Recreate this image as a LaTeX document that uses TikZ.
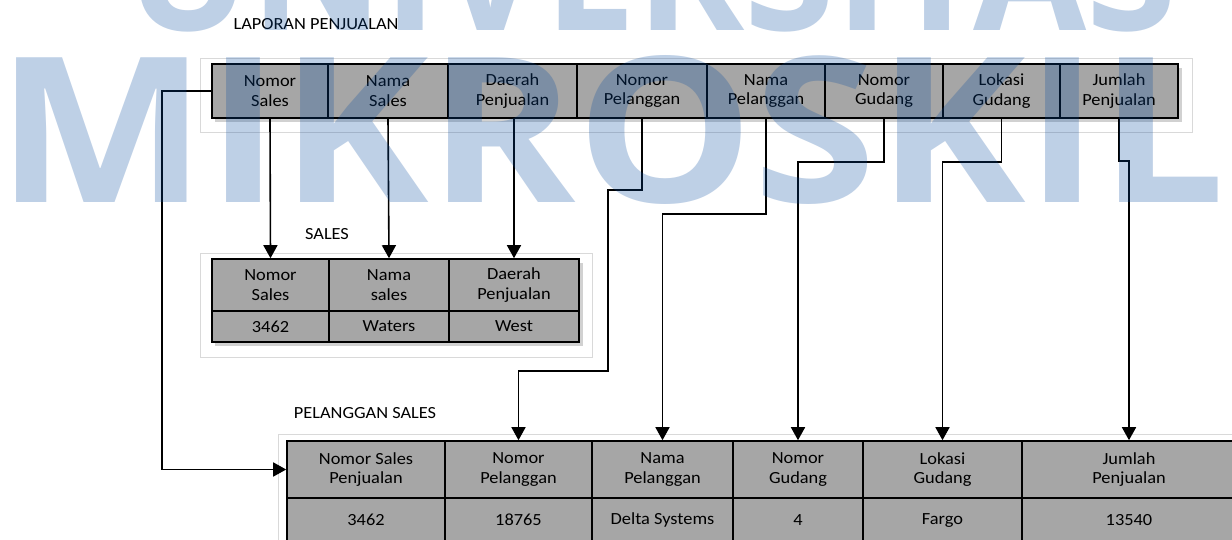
\documentclass[tikz,border=0pt]{standalone}
\usepackage{fontspec}
\setmainfont{Carlito}[FakeStretch=1.08]
\newfontfamily\wmfont{Open Sans}
\usetikzlibrary{arrows.meta}
\definecolor{cellgray}{HTML}{A6A6A6}
\definecolor{wmblue}{RGB}{5,74,159}
\definecolor{framegray}{HTML}{D9D9D9}
\newcommand\mkcell[6]{%
  \node[cell, minimum width={(#4)-(#2)}, minimum height={(#5)-(#3)}] (#1)
    at ({((#2)+(#4))/2},{((#3)+(#5))/2}) {#6};}
\begin{document}
\begin{tikzpicture}[x=1pt,y=-1pt,
  cell/.style={draw=black, line width=1.6pt, fill=cellgray, inner sep=0pt,
    align=center, font=\fontsize{17}{19.5}\selectfont, text=black},
  arr/.style={draw=black, line width=1.6pt, -{Triangle[width=14pt,length=13pt]}},
  framebox/.style={draw=framegray, line width=0.8pt},
  shadowbox/.style={fill=black, opacity=0.18},
  lbl/.style={font=\fontsize{17}{19.5}\selectfont, inner sep=0pt, anchor=base},
  wm/.style={inner sep=0pt, anchor=base west, text=wmblue, opacity=0.26}
]
\useasboundingbox (0,0) rectangle (1232,539);
\fill[white] (0,0) rectangle (1232,539);

% frames
\draw[framebox] (200,58) rectangle (1192,132);
\draw[framebox] (200,253) rectangle (592,357);
\draw[framebox] (278,560) -- (278,434) -- (1240,434);

% shadows
\fill[shadowbox] (215,68) rectangle (1182,122);
\fill[shadowbox] (215,263) rectangle (583,346);
\fill[shadowbox] (290,445) rectangle (1240,560);

% LAPORAN PENJUALAN
\node[lbl] (lap) at (316,29) {LAPORAN PENJUALAN};
\mkcell{t1}{212}{64}{328}{118}{Nomor\\Sales}
\mkcell{t2}{328}{64}{448}{118}{Nama\\Sales}
\mkcell{t3}{448}{64}{577}{118}{Daerah\\Penjualan}
\mkcell{t4}{577}{64}{707}{118}{Nomor\\Pelanggan}
\mkcell{t5}{707}{64}{825}{118}{Nama\\Pelanggan}
\mkcell{t6}{825}{64}{943}{118}{Nomor\\Gudang}
\mkcell{t7}{943}{64}{1060}{118}{Lokasi\\Gudang}
\mkcell{t8}{1060}{64}{1178}{118}{Jumlah\\Penjualan}

% SALES
\node[lbl] (sal) at (327,239) {SALES};
\mkcell{s1}{212}{259}{329}{311}{Nomor\\Sales}
\mkcell{s2}{329}{259}{449}{311}{Nama\\sales}
\mkcell{s3}{449}{259}{579}{311}{Daerah\\Penjualan}
\mkcell{sd1}{212}{311}{329}{342}{3462}
\mkcell{sd2}{329}{311}{449}{342}{Waters}
\mkcell{sd3}{449}{311}{579}{342}{West}

% PELANGGAN SALES
\node[lbl] (pel) at (365,418) {PELANGGAN SALES};
\mkcell{p1}{287}{441}{445}{498}{Nomor Sales\\Penjualan}
\mkcell{p2}{445}{441}{592}{498}{Nomor\\Pelanggan}
\mkcell{p3}{592}{441}{733}{498}{Nama\\Pelanggan}
\mkcell{p4}{733}{441}{863}{498}{Nomor\\Gudang}
\mkcell{p5}{863}{441}{1022}{498}{Lokasi\\Gudang}
\mkcell{p6}{1022}{441}{1236}{498}{Jumlah\\Penjualan}
\mkcell{q1}{287}{498}{445}{542}{3462}
\mkcell{q2}{445}{498}{592}{542}{18765}
\mkcell{q3}{592}{498}{733}{542}{Delta Systems}
\mkcell{q4}{733}{498}{863}{542}{4}
\mkcell{q5}{863}{498}{1022}{542}{Fargo}
\mkcell{q6}{1022}{498}{1236}{542}{13540}

% connectors
\draw[arr] (t1.south) -- (s1.north);
\draw[arr] (t2.south) -- (s2.north);
\draw[arr] (s3.north |- t3.south) -- (s3.north);
\draw[arr] (t1.west) -- ++(-49,0) |- (p1.west);
\draw[arr] (t4.south) -- ++(0,71) -| (608,371) -| (p2.north);
\draw[arr] (t5.south) -- ++(0,95) -| (p3.north);
\draw[arr] (t6.south) -- ++(0,43) -| (p4.north);
\draw[arr] (t7.south) -- ++(0,43) -| (p5.north);
\draw[arr] (t8.south) -- ++(0,42) -| (p6.north);

% watermark
\node[wm] (wm1) at (126,30) {\resizebox{1050pt}{122pt}{\wmfont\bfseries UNIVERSITAS}};
\node[wm] (wm2) at (-4,202) {\resizebox{1228pt}{147pt}{\wmfont\bfseries MIKROSKIL}};
\end{tikzpicture}
\end{document}
